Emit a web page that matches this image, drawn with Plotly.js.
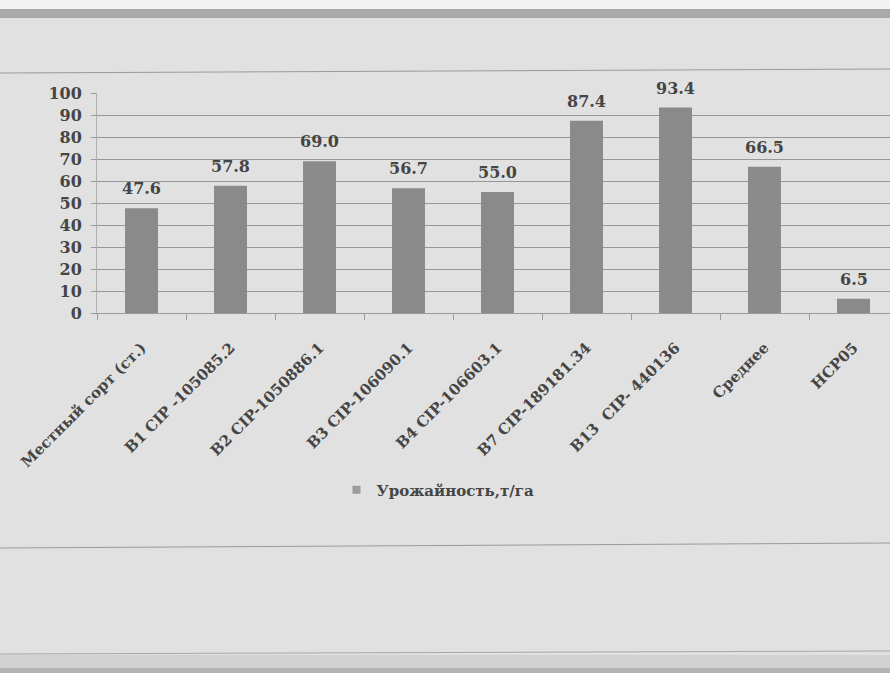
<!DOCTYPE html>
<html>
<head>
<meta charset="utf-8">
<script src="https://cdn.plot.ly/plotly-3.0.1.min.js"></script>
<style>
  html, body { margin: 0; padding: 0; background: #e1e1e1; }
  #chart { width: 890px; height: 673px; }
</style>
</head>
<body>
<div id="chart"></div>
<script>
// Урожайность сортов картофеля, т/га
const categories = [
  "Местный сорт (ст.)",
  "В1 CIP -105085.2",
  "В2 CIP-1050886.1",
  "В3 CIP-106090.1",
  "В4 CIP-106603.1",
  "В7 CIP-189181.34",
  "В13\u00a0\u00a0CIP- 440136",
  "Среднее",
  "НСР05"
];
const yieldValues = [47.6, 57.8, 69.0, 56.7, 55.0, 87.4, 93.4, 66.5, 6.5];
const seriesName = "Урожайность,т/га";
const yTicks = [0, 10, 20, 30, 40, 50, 60, 70, 80, 90, 100];

const W = 890, H = 673;
const M = { l: 97, r: 0, t: 93, b: 360 };
const textColor = "#454545";
const fontFamily = "DejaVu Serif, Liberation Serif, serif";

// pixel -> paper helpers for the page frame decorations
const plotW = W - M.l - M.r, plotH = H - M.t - M.b;
const px = x => (x - M.l) / plotW;
const py = y => (H - M.b - y) / plotH;

const bars = {
  type: "bar",
  x: categories,
  y: yieldValues,
  marker: { color: "#8a8a8a", line: { width: 0 } },
  showlegend: false,
  hoverinfo: "x+y"
};

// legend key drawn as a small square marker
const legendKey = {
  type: "scatter",
  mode: "markers",
  x: [null],
  y: [null],
  name: seriesName,
  marker: { symbol: "square", size: 8, color: "#9c9c9c" },
  showlegend: true
};

const valueLabels = categories.map((c, i) => ({
  x: c,
  y: yieldValues[i],
  xref: "x",
  yref: "y",
  text: yieldValues[i].toFixed(1),
  showarrow: false,
  yanchor: "bottom",
  yshift: 8,
  font: { family: fontFamily, size: 16, color: textColor, weight: "bold" }
}));

const frame = [
  // top toolbar edge
  { type: "rect", xref: "paper", yref: "paper", x0: px(0), x1: px(W), y0: py(0), y1: py(9),
    fillcolor: "#f2f2f2", line: { width: 0 }, layer: "below" },
  { type: "rect", xref: "paper", yref: "paper", x0: px(0), x1: px(W), y0: py(9), y1: py(18),
    fillcolor: "#a9a9a9", line: { width: 0 }, layer: "below" },
  // chart area borders
  { type: "line", xref: "paper", yref: "paper", x0: px(0), x1: px(W), y0: py(73), y1: py(69),
    line: { color: "#9a9a9a", width: 1 }, layer: "below" },
  { type: "line", xref: "paper", yref: "paper", x0: px(0), x1: px(W), y0: py(548), y1: py(543),
    line: { color: "#9a9a9a", width: 1 }, layer: "below" },
  { type: "line", xref: "paper", yref: "paper", x0: px(0), x1: px(W), y0: py(654), y1: py(651),
    line: { color: "#a8a8a8", width: 1 }, layer: "below" },
  { type: "rect", xref: "paper", yref: "paper", x0: px(0), x1: px(W), y0: py(655), y1: py(668),
    fillcolor: "#d2d2d2", line: { width: 0 }, layer: "below" },
  { type: "rect", xref: "paper", yref: "paper", x0: px(0), x1: px(W), y0: py(668), y1: py(673),
    fillcolor: "#b4b4b4", line: { width: 0 }, layer: "below" }
];

const layout = {
  width: W,
  height: H,
  margin: M,
  paper_bgcolor: "#e1e1e1",
  plot_bgcolor: "rgba(0,0,0,0)",
  bargap: 0.63,
  font: { family: fontFamily, color: textColor },
  xaxis: {
    type: "category",
    range: [-0.5, 8.41],
    tickangle: -45,
    ticks: "outside",
    tickson: "boundaries",
    ticklen: 6,
    tickcolor: "#9a9a9a",
    ticklabelstandoff: 19,
    showline: true,
    linecolor: "#9a9a9a",
    showgrid: false,
    tickfont: { family: fontFamily, size: 15, color: textColor, weight: "bold" },
    fixedrange: true
  },
  yaxis: {
    range: [0, 100],
    tickvals: yTicks,
    ticks: "outside",
    ticklen: 5,
    tickcolor: "#9a9a9a",
    ticklabelstandoff: 6,
    showline: true,
    linecolor: "#b0b0b0",
    showgrid: true,
    gridcolor: "#979797",
    gridwidth: 1,
    zeroline: false,
    tickfont: { family: fontFamily, size: 16, color: textColor, weight: "bold" },
    fixedrange: true
  },
  showlegend: true,
  legend: {
    x: px(438),
    xanchor: "center",
    y: py(490),
    yanchor: "middle",
    orientation: "h",
    bgcolor: "rgba(0,0,0,0)",
    font: { family: fontFamily, size: 15, color: textColor, weight: "bold" },
    itemwidth: 30
  },
  annotations: valueLabels,
  shapes: frame
};

Plotly.newPlot("chart", [bars, legendKey], layout, { displayModeBar: false, staticPlot: true });
</script>
</body>
</html>
